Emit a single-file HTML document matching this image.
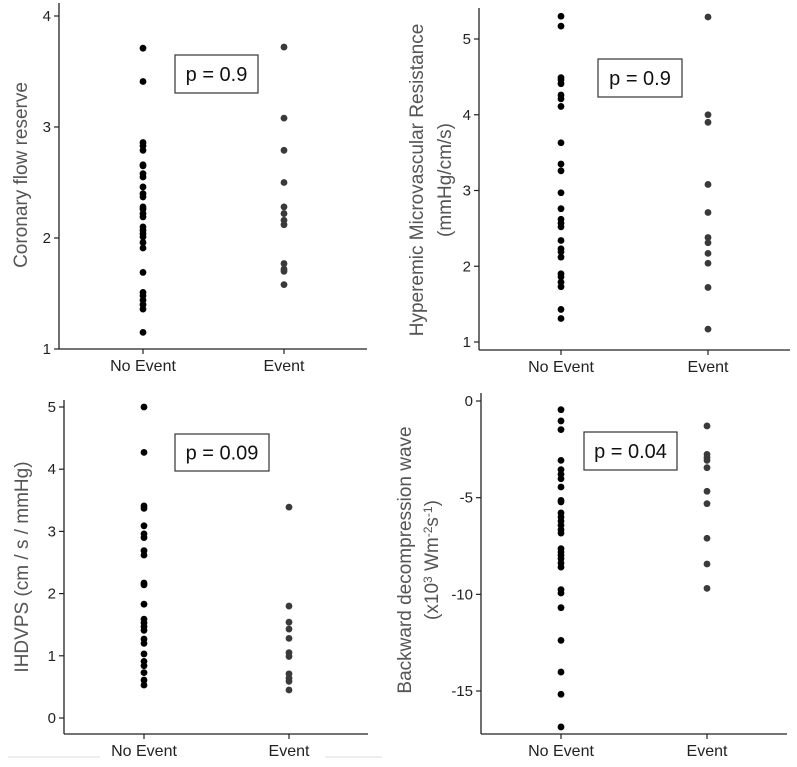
<!DOCTYPE html>
<html><head><meta charset="utf-8"><style>
html,body{margin:0;padding:0;background:#fff;}
svg{display:block;font-family:"Liberation Sans",sans-serif;}
.tick{font-size:15px;fill:#222;}
.cat{font-size:16px;fill:#222;}
.ttl{font-size:19px;fill:#555;}
.ptxt{font-size:20px;fill:#111;}
</style></head><body>
<svg id="c" width="797" height="767" viewBox="0 0 797 767">
<line x1="8" y1="757" x2="100" y2="757" stroke="#eee" stroke-width="2"/>
<line x1="325" y1="757" x2="382" y2="757" stroke="#eee" stroke-width="2"/>
</svg>
<script>
// Panel 1: Coronary flow reserve
const cfrNoEvent=[3.71,3.41,2.86,2.83,2.79,2.66,2.65,2.58,2.55,2.46,2.40,2.37,2.28,2.26,2.22,2.19,2.10,2.07,2.04,2.01,1.96,1.91,1.69,1.51,1.48,1.44,1.40,1.36,1.15];
const cfrEvent=[3.72,3.08,2.79,2.50,2.28,2.22,2.16,2.12,1.77,1.72,1.70,1.58];
const cfrTicks=[1,2,3,4];
// Panel 2: Hyperemic microvascular resistance
const hmrNoEvent=[5.30,5.17,4.49,4.46,4.41,4.26,4.21,4.11,3.63,3.35,3.26,2.97,2.76,2.62,2.57,2.52,2.34,2.23,2.19,2.12,1.90,1.86,1.79,1.73,1.43,1.31];
const hmrEvent=[5.29,4.00,3.90,3.08,2.71,2.38,2.31,2.17,2.04,1.72,1.17];
const hmrTicks=[1,2,3,4,5];
// Panel 3: IHDVPS
const ihdNoEvent=[5.0,4.27,3.41,3.37,3.09,2.96,2.90,2.69,2.62,2.17,2.14,1.83,1.59,1.53,1.47,1.41,1.27,1.20,1.03,0.91,0.84,0.73,0.61,0.53];
const ihdEvent=[3.39,1.80,1.54,1.43,1.28,1.05,0.99,0.71,0.64,0.59,0.45];
const ihdTicks=[0,1,2,3,4,5];
// Panel 4: Backward decompression wave
const bdwNoEvent=[-0.45,-1.03,-1.48,-3.07,-3.55,-3.79,-4.02,-4.45,-5.14,-5.22,-5.79,-6.0,-6.21,-6.43,-6.66,-6.83,-7.64,-7.81,-7.98,-8.16,-8.38,-8.59,-9.76,-9.93,-10.69,-12.38,-14.02,-15.17,-16.86];
const bdwEvent=[-1.29,-2.76,-2.93,-3.07,-3.45,-4.67,-5.31,-7.10,-8.43,-9.69];
const bdwTicks=[0,-5,-10,-15];
const categories=["No Event","Event"];
const pValues=["p = 0.9","p = 0.9","p = 0.09","p = 0.04"];

const NS="http://www.w3.org/2000/svg";
const svg=document.getElementById('c');
function mk(tag,attrs,parent){const e=document.createElementNS(NS,tag);for(const k in attrs)e.setAttribute(k,attrs[k]);(parent||svg).appendChild(e);return e;}

function panel(cfg){
  const g=mk('g',{});
  
  
  const y=v=>cfg.py0+(v-cfg.v0)*(cfg.py1-cfg.py0)/(cfg.v1-cfg.v0);
  const ya=mk('line',{x1:cfg.ax,y1:cfg.top,x2:cfg.ax,y2:cfg.bottom,stroke:'#222','stroke-width':1.3},g);
  
  
  const xa=mk('line',{x1:cfg.ax,y1:cfg.bottom,x2:cfg.right,y2:cfg.bottom,stroke:'#222','stroke-width':1.3},g);
  
  
  cfg.ticks.forEach(t=>{
    const yy=y(t);
    mk('line',{x1:cfg.ax-5,y1:yy,x2:cfg.ax,y2:yy,stroke:'#222','stroke-width':1.2},g);
    const tl=mk('text',{x:cfg.ax-8,y:yy+5,'text-anchor':'end',class:'tick'},g);
    tl.textContent=String(t);
    
    
  });
  const xs=[cfg.x1,cfg.x2];
  categories.forEach((c,i)=>{
    mk('line',{x1:xs[i],y1:cfg.bottom,x2:xs[i],y2:cfg.bottom+5,stroke:'#222','stroke-width':1.2},g);
    const cl=mk('text',{x:xs[i],y:cfg.bottom+22,'text-anchor':'middle',class:'cat'},g);
    cl.textContent=c;
    
    
  });
  [[cfg.a,'#000'],[cfg.b,'#3a3a3a']].forEach((s,i)=>{
    s[0].forEach(v=>{
      const d=mk('circle',{cx:xs[i],cy:y(v),r:3.4,fill:s[1]},g);
      
      
    });
  });
  const bx=mk('rect',{x:cfg.box[0],y:cfg.box[1],width:cfg.box[2],height:cfg.box[3],fill:'#fff',stroke:'#333','stroke-width':1.2},g);
  
  
  const pt=mk('text',{x:cfg.box[0]+cfg.box[2]/2,y:cfg.box[1]+cfg.box[3]/2+7,'text-anchor':'middle',class:'ptxt'},g);
  pt.textContent=cfg.p;
  
  
  cfg.titles.forEach((t,i)=>{
    const tx=mk('text',{x:0,y:0,'text-anchor':'middle',class:'ttl',transform:`translate(${t[0]},${cfg.tcy}) rotate(-90)`},g);
    tx.innerHTML=t[1];
    
    
  });
}

panel({name:'panel-coronary-flow-reserve',ax:59,top:3,bottom:349,right:367,x1:143,x2:284,v0:1,v1:4,py0:349,py1:16,ticks:cfrTicks,a:cfrNoEvent,b:cfrEvent,box:[175,55,83,38],p:pValues[0],titles:[[27,'Coronary flow reserve']],tcy:175});
panel({name:'panel-hyperemic-resistance',ax:479,top:8,bottom:350,right:790,x1:561,x2:708,v0:1,v1:5,py0:342,py1:39,ticks:hmrTicks,a:hmrNoEvent,b:hmrEvent,box:[598,59,84,38],p:pValues[1],titles:[[423,'Hyperemic Microvascular Resistance'],[451,'(mmHg/cm/s)']],tcy:180});
panel({name:'panel-ihdvps',ax:64,top:400,bottom:734,right:368,x1:144,x2:289,v0:0,v1:5,py0:718,py1:407,ticks:ihdTicks,a:ihdNoEvent,b:ihdEvent,box:[175,434,94,37],p:pValues[2],titles:[[28,'IHDVPS (cm / s / mmHg)']],tcy:567});
panel({name:'panel-backward-decompression-wave',ax:481,top:393,bottom:734,right:787,x1:561,x2:707,v0:0,v1:-15,py0:401,py1:691,ticks:bdwTicks,a:bdwNoEvent,b:bdwEvent,box:[584,432,93,38],p:pValues[3],titles:[[411,'Backward decompression wave'],[438,'(x10<tspan dy="-6" font-size="12">3</tspan><tspan dy="6"> Wm</tspan><tspan dy="-6" font-size="12">-2</tspan><tspan dy="6">s</tspan><tspan dy="-6" font-size="12">-1</tspan><tspan dy="6">)</tspan>']],tcy:560});
</script>
</body></html>
